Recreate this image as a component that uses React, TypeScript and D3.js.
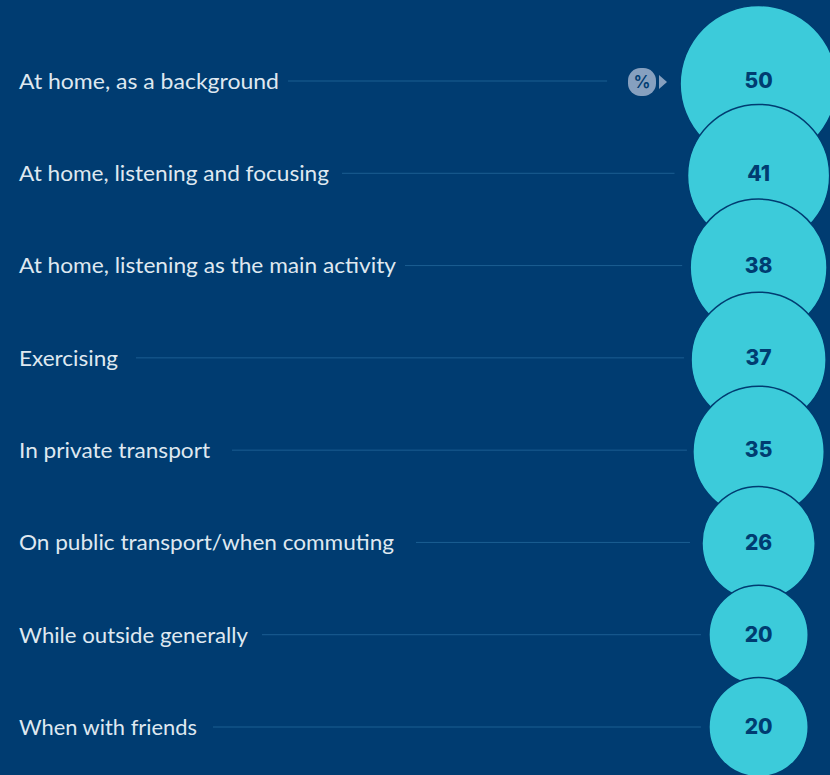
import React from "react";
import * as d3 from "d3";

const categories = [
  "At home, as a background",
  "At home, listening and focusing",
  "At home, listening as the main activity",
  "Exercising",
  "In private transport",
  "On public transport/when commuting",
  "While outside generally",
  "When with friends",
];
const values = [50, 41, 38, 37, 35, 26, 20, 20];

const W = 830, H = 775;
const BG = "#003c71", CYAN = "#3ccbda", INK = "#003c71", LINE = "#1b5e92";
const FONT = "Lato, 'Noto Sans', sans-serif";

// layout helpers (not data)
const labelWidths = [260, 310, 377, 99, 191, 375, 229, 178];
const leaderEndGaps = [73, 13, 8, 7, 6, 12, 8, 8];
const leaderStartGaps = [9, 13, 9, 18, 22, 22, 14, 16];

const y = d3.scalePoint<number>().domain(d3.range(values.length)).range([81, 727]);
const r = d3.scaleSqrt().domain([0, 50]).range([0, 78.5]);
const cx = 758.6;

export default function App() {
  return (
    <svg width={W} height={H} viewBox={`0 0 ${W} ${H}`}
      style={{ position: "fixed", left: 0, top: 0, background: BG, display: "block" }}>
      <rect width={W} height={H} fill={BG} />
      {categories.map((c, i) => {
        const yy = y(i)!;
        return (
          <g key={c}>
            <text x={19} y={yy + 0.5} dy="0.35em" fill="#dfe8f0" fontFamily={FONT} fontSize={21}
              textLength={labelWidths[i]} lengthAdjust="spacingAndGlyphs">{c}</text>
            <line x1={19 + labelWidths[i] + leaderStartGaps[i]} x2={cx - r(values[i]) - leaderEndGaps[i]}
              y1={yy} y2={yy} stroke={LINE} strokeWidth={1} />
          </g>
        );
      })}
      {values.map((v, i) => {
        const rr = r(v);
        const cy = y(i)! + (rr - 49) * 0.1;
        return (
          <g key={i}>
            <circle cx={cx} cy={cy} r={rr} fill={CYAN} stroke={INK} strokeWidth={1.5} />
            <text x={cx} y={y(i)!} dy="0.35em" textAnchor="middle" fill={INK}
              fontFamily="Inter, sans-serif" fontWeight={800} fontSize={21}>{v}</text>
          </g>
        );
      })}
      <g transform={`translate(642,${y(0)! + 1})`}>
        <rect x={-14} y={-14} width={28} height={28} rx={12.5} fill="#86a0bf" />
        <text y={0} dy="0.36em" textAnchor="middle" fill={INK} fontFamily="Inter, sans-serif"
          fontWeight={600} fontSize={17}>%</text>
        <path d={d3.line()([[17, -7], [25, 0], [17, 7]])! + "Z"} fill="#86a0bf" />
      </g>
    </svg>
  );
}
